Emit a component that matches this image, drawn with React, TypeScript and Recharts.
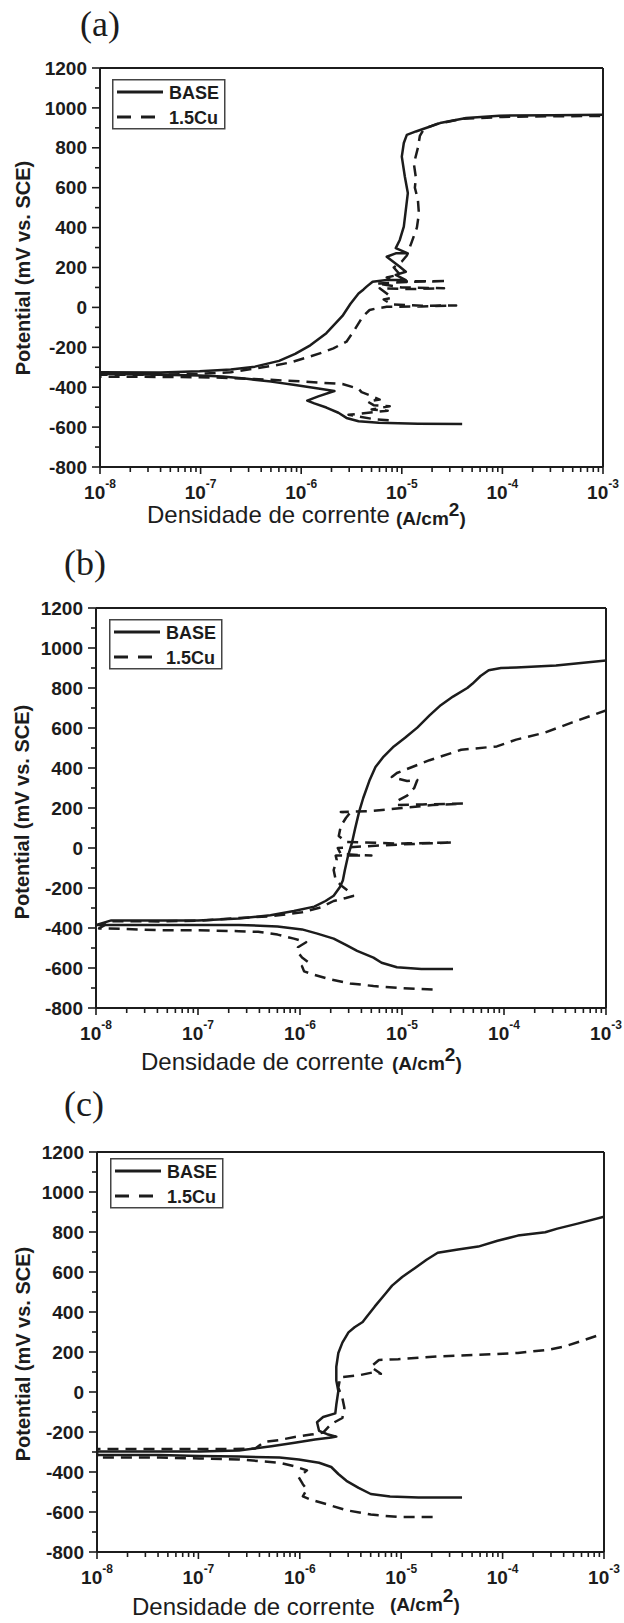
import React from 'react';
import { LineChart, Line, XAxis, YAxis, ReferenceLine, Legend } from 'recharts';

// ---------- data: log10(current density, A/cm2) and potential (mV vs. SCE) ----------
// Panel (a)
const aBaseLogI = [-4.40,-4.84,-5.23,-5.43,-5.55,-5.63,-5.75,-5.87,-5.94,-5.83,-5.67,-5.83,-6.06,-6.30,-6.54,-6.78,-7.01,-7.41,-7.80,-8.00,
  -8.00,-7.40,-7.01,-6.70,-6.46,-6.22,-6.06,-5.91,-5.75,-5.59,-5.51,-5.43,-5.38,-5.35,-5.29,-5.15,-4.96,-5.06,-4.96,-5.02,
  -5.15,-5.06,-4.94,-5.06,-5.02,-4.98,-4.96,-4.94,-4.97,-5.00,-4.98,-4.95,-4.86,-4.76,-4.62,-4.36,-4.03,-3.50,-3.00];
const aBaseE = [-585,-583,-578,-571,-554,-528,-502,-481,-467,-446,-419,-407,-389,-372,-358,-346,-341,-337,-334,-334,
  -325,-326,-320,-311,-297,-268,-233,-190,-129,-43,18,70,90,104,129,137,137,163,179,204,
  254,271,271,297,338,405,489,573,656,756,824,865,882,899,924,949,961,963,966];
const aCuLogI = [-5.13,-5.28,-5.53,-5.40,-5.14,-5.30,-5.12,-5.28,-5.34,-5.22,-5.32,-5.40,-5.43,-5.59,-5.80,-6.00,-6.30,-6.60,-6.90,-7.20,-7.60,-8.00,
  -8.00,-7.50,-7.00,-6.70,-6.45,-6.25,-6.10,-5.95,-5.80,-5.68,-5.55,-5.47,-5.39,-5.32,-5.25,-5.15,-4.80,-4.46,-4.80,-5.10,
  -5.18,-5.10,-5.15,-5.22,-4.90,-4.58,-5.00,-5.25,-4.90,-4.55,-5.00,-5.15,-5.02,-5.08,-5.00,-4.95,-4.90,-4.85,-4.83,-4.84,
  -4.87,-4.86,-4.88,-4.84,-4.82,-4.78,-4.65,-4.40,-4.00,-3.50,-3.00];
const aCuE = [-566,-560,-538,-532,-518,-512,-495,-490,-472,-462,-440,-425,-408,-384,-378,-371,-363,-356,-351,-349,-348,-347,
  -338,-338,-333,-325,-305,-290,-275,-252,-228,-205,-172,-113,-47,-13,-5,3,5,10,8,15,
  40,48,70,96,92,96,100,120,128,132,130,150,165,200,230,260,330,400,470,540,
  600,650,720,800,860,895,920,945,955,958,960];

// Panel (b)
const bBaseLogI = [-4.50,-4.81,-5.05,-5.20,-5.28,-5.44,-5.55,-5.67,-5.83,-5.98,-6.22,-6.60,-7.19,-8.00,
  -7.85,-7.00,-6.60,-6.29,-6.06,-5.86,-5.75,-5.67,-5.61,-5.58,-5.56,-5.53,-5.49,-5.46,-5.42,-5.38,-5.32,-5.26,-5.18,-5.08,
  -4.97,-4.85,-4.73,-4.62,-4.50,-4.36,-4.31,-4.23,-4.15,-4.03,-3.88,-3.49,-3.00];
const bBaseE = [-605,-605,-596,-574,-548,-514,-484,-453,-428,-407,-392,-385,-385,-385,
  -362,-362,-353,-336,-315,-293,-265,-239,-196,-162,-110,-41,27,96,182,250,336,405,457,508,
  551,602,663,714,757,800,821,860,889,900,903,912,937];
const bCuLogI = [-4.70,-5.05,-5.28,-5.51,-5.71,-5.86,-5.96,-5.98,-5.92,-5.98,-6.02,-6.02,-5.94,-6.06,-6.22,-6.41,-6.60,-6.99,-7.38,-7.70,-7.97,
  -7.85,-7.38,-7.00,-6.60,-6.29,-5.98,-5.79,-5.67,-5.55,-5.48,-5.50,-5.59,-5.65,-5.67,-5.64,-5.65,-5.30,-5.60,-5.63,-5.30,
  -5.00,-4.50,-5.00,-5.55,-5.62,-5.60,-5.55,-5.51,-5.60,-5.30,-5.00,-4.70,-4.40,-4.80,-5.05,-5.05,-4.95,-4.88,-4.85,-4.95,
  -5.10,-5.05,-4.90,-4.73,-4.42,-4.07,-3.88,-3.60,-3.33,-3.00];
const bCuE = [-708,-699,-690,-677,-656,-634,-617,-591,-570,-548,-522,-496,-471,-453,-433,-419,-416,-411,-411,-405,-402,
  -366,-367,-364,-350,-342,-321,-296,-265,-250,-240,-225,-190,-160,-110,-60,-38,-38,-30,0,10,
  18,28,22,30,60,110,150,175,180,185,200,215,222,218,215,235,262,300,340,335,
  355,375,405,439,491,508,542,577,628,688];

// Panel (c)
const cBaseLogI = [-4.40,-4.83,-5.11,-5.30,-5.42,-5.54,-5.62,-5.69,-5.81,-6.01,-6.20,-6.60,-6.99,-7.38,-8.00,
  -8.00,-7.38,-6.99,-6.60,-6.28,-6.05,-5.85,-5.69,-5.64,-5.73,-5.81,-5.83,-5.77,-5.65,-5.64,-5.62,-5.64,-5.64,-5.62,-5.58,
  -5.52,-5.46,-5.38,-5.34,-5.26,-5.16,-5.09,-4.99,-4.87,-4.75,-4.64,-4.44,-4.24,-4.05,-3.85,-3.58,-3.46,-3.26,-3.00];
const cBaseE = [-527,-527,-522,-510,-479,-444,-410,-375,-354,-337,-328,-323,-320,-315,-315,
  -297,-297,-297,-292,-271,-254,-237,-228,-223,-211,-194,-151,-125,-107,-64,5,57,126,195,247,
  298,324,350,376,428,489,532,575,618,661,696,713,727,756,782,799,817,842,877];
const cCuLogI = [-4.69,-5.03,-5.30,-5.54,-5.73,-5.89,-5.97,-5.93,-5.97,-6.01,-5.93,-6.05,-6.20,-6.60,-6.99,-7.38,-8.00,
  -8.00,-7.38,-6.67,-6.44,-6.35,-6.20,-6.05,-5.89,-5.77,-5.69,-5.58,-5.56,-5.58,-5.62,-5.60,-5.42,-5.26,-5.20,-5.30,-5.22,
  -5.03,-4.64,-4.24,-3.85,-3.54,-3.38,-3.07];
const cCuE = [-625,-625,-613,-591,-562,-539,-522,-487,-461,-427,-392,-372,-354,-337,-332,-328,-328,
  -285,-285,-285,-283,-250,-240,-225,-213,-203,-160,-130,-80,-30,22,74,83,100,91,126,160,
  164,178,186,195,212,229,281];

const seriesNames = ['BASE', '1.5Cu'];
const panelTitles = ['(a)', '(b)', '(c)'];
const yTickValues = [-800,-700,-600,-500,-400,-300,-200,-100,0,100,200,300,400,500,600,700,800,900,1000,1100,1200];
const decadeExponents = [-8, -7, -6, -5, -4, -3];
const minorMultipliers = [1, 2, 3, 4, 5, 6, 7, 8, 9];
const xLabelText = 'Densidade de corrente';
const yLabelText = 'Potential (mV vs. SCE)';

// ---------- helpers ----------
const INK = '#1c1c1c';
const SANS = '"Liberation Sans", Arial, Helvetica, sans-serif';
const SERIF = '"Liberation Serif", "Times New Roman", Times, serif';

const xTicks: number[] = [];
decadeExponents.forEach((n) => {
  if (n === -3) { xTicks.push(Math.pow(10, n)); return; }
  minorMultipliers.forEach((k) => xTicks.push(k * Math.pow(10, n)));
});

function build(logI: number[], E: number[]) {
  const n = Math.min(logI.length, E.length);
  const out: { i: number; E: number }[] = [];
  for (let k = 0; k < n; k++) out.push({ i: Math.pow(10, logI[k]), E: E[k] });
  return out;
}

const XTick = (props: any) => {
  const { x, y, payload } = props;
  const lg = Math.log10(payload.value);
  const major = Math.abs(lg - Math.round(lg)) < 1e-6;
  return (
    <g>
      <line x1={x} x2={x} y1={y} y2={y + (major ? 7 : 5)} stroke={INK} strokeWidth={1.6} />
      {major && (
        <text x={x} y={y + 32} textAnchor="middle" fontFamily={SANS} fontWeight="bold" fontSize={19} fill={INK}>
          10<tspan dy={-11} fontSize={12}>{String(Math.round(lg))}</tspan>
        </text>
      )}
    </g>
  );
};

const YTick = (props: any) => {
  const { x, y, payload } = props;
  const v = payload.value;
  const major = v % 200 === 0;
  return (
    <g>
      <line x1={x} x2={x - (major ? 8 : 5)} y1={y} y2={y} stroke={INK} strokeWidth={1.6} />
      {major && (
        <text x={x - 13} y={y} dy="0.35em" textAnchor="end" fontFamily={SANS} fontWeight="bold" fontSize={19} fill={INK}>
          {String(v)}
        </text>
      )}
    </g>
  );
};

const LegendBox = () => (
  <svg width={114} height={51} style={{ display: 'block' }}>
    <rect x={0.75} y={0.75} width={112} height={49} fill="#fff" stroke="#444" strokeWidth={1.5} />
    <line x1={5} x2={51} y1={13} y2={13} stroke={INK} strokeWidth={3.2} />
    <text x={57} y={20} fontFamily={SANS} fontWeight="bold" fontSize={18} fill={INK}>{seriesNames[0]}</text>
    <line x1={5} x2={47} y1={38} y2={38} stroke={INK} strokeWidth={3.2} strokeDasharray="14 10" />
    <text x={57} y={45} fontFamily={SANS} fontWeight="bold" fontSize={18} fill={INK}>{seriesNames[1]}</text>
  </svg>
);

type PanelCfg = {
  top: number; height: number; mTop: number; plotH: number; left: number; right: number;
  title: string; titleX: number; titleY: number;
  legendX: number; legendY: number;
  yLabX: number; yLabY: number;
  xLabX: number; xLabY: number; unitX: number; unitY: number;
  base: { i: number; E: number }[]; cu: { i: number; E: number }[];
};

const Panel = ({ cfg }: { cfg: PanelCfg }) => {
  const W = 624;
  const xAxisH = cfg.height - cfg.mTop - cfg.plotH;
  return (
    <div style={{ position: 'absolute', left: 0, top: cfg.top, width: W, height: cfg.height }}>
      <LineChart
        width={W}
        height={cfg.height}
        margin={{ top: cfg.mTop, right: cfg.right, left: 0, bottom: 0 }}
      >
        <XAxis
          dataKey="i"
          type="number"
          scale="log"
          domain={[1e-8, 1e-3]}
          allowDataOverflow
          ticks={xTicks}
          interval={0}
          tickSize={0}
          tickMargin={0}
          tickLine={false}
          tick={<XTick />}
          height={xAxisH}
          axisLine={{ stroke: INK, strokeWidth: 2 }}
        />
        <YAxis
          type="number"
          domain={[-800, 1200]}
          allowDataOverflow
          ticks={yTickValues}
          interval={0}
          tickSize={0}
          tickMargin={0}
          tickLine={false}
          tick={<YTick />}
          width={cfg.left}
          axisLine={{ stroke: INK, strokeWidth: 2 }}
        />
        <ReferenceLine y={1200} stroke={INK} strokeWidth={2} />
        <ReferenceLine x={1e-3} stroke={INK} strokeWidth={2} />
        <Line
          data={cfg.base}
          dataKey="E"
          name={seriesNames[0]}
          type="linear"
          stroke={INK}
          strokeWidth={2.5}
          strokeLinejoin="round"
          dot={false}
          activeDot={false}
          isAnimationActive={false}
        />
        <Line
          data={cfg.cu}
          dataKey="E"
          name={seriesNames[1]}
          type="linear"
          stroke={INK}
          strokeWidth={2.5}
          strokeDasharray="11 7"
          strokeLinejoin="round"
          dot={false}
          activeDot={false}
          isAnimationActive={false}
        />
        <Legend
          layout="horizontal"
          verticalAlign="middle"
          align="center"
          content={() => <LegendBox />}
          wrapperStyle={{ left: cfg.legendX, top: cfg.legendY, width: 114, height: 51 }}
        />
      </LineChart>
      <svg
        width={W}
        height={cfg.height}
        style={{ position: 'absolute', left: 0, top: 0, pointerEvents: 'none', overflow: 'visible' }}
      >
        <text x={cfg.titleX} y={cfg.titleY} fontFamily={SERIF} fontSize={36} fill={INK}>{cfg.title}</text>
        <text
          transform={`translate(${cfg.yLabX},${cfg.yLabY}) rotate(-90)`}
          textAnchor="middle"
          fontFamily={SANS}
          fontWeight="bold"
          fontSize={20}
          fill={INK}
        >
          {yLabelText}
        </text>
        <text x={cfg.xLabX} y={cfg.xLabY} fontFamily={SANS} fontSize={24} fill={INK}>{xLabelText}</text>
        <text x={cfg.unitX} y={cfg.unitY} fontFamily={SANS} fontWeight="bold" fontSize={19} fill={INK}>
          (A/cm<tspan dy={-9} fontSize={19}>2</tspan><tspan dy={9}>)</tspan>
        </text>
      </svg>
    </div>
  );
};

const panels: PanelCfg[] = [
  {
    top: 0, height: 540, mTop: 68, plotH: 399, left: 100, right: 21,
    title: panelTitles[0], titleX: 80, titleY: 36,
    legendX: 112, legendY: 79,
    yLabX: 30, yLabY: 268,
    xLabX: 147, xLabY: 523, unitX: 396, unitY: 525,
    base: build(aBaseLogI, aBaseE), cu: build(aCuLogI, aCuE),
  },
  {
    top: 540, height: 540, mTop: 68, plotH: 400, left: 96, right: 18,
    title: panelTitles[1], titleX: 64, titleY: 35,
    legendX: 109, legendY: 79,
    yLabX: 29, yLabY: 272,
    xLabX: 141, xLabY: 530, unitX: 392, unitY: 530,
    base: build(bBaseLogI, bBaseE), cu: build(bCuLogI, bCuE),
  },
  {
    top: 1080, height: 543, mTop: 72, plotH: 400, left: 97, right: 20,
    title: panelTitles[2], titleX: 64, titleY: 36,
    legendX: 110, legendY: 78,
    yLabX: 30, yLabY: 274,
    xLabX: 132, xLabY: 535, unitX: 390, unitY: 531,
    base: build(cBaseLogI, cBaseE), cu: build(cCuLogI, cCuE),
  },
];

export default function App() {
  return (
    <div style={{ position: 'absolute', left: 0, top: 0, width: 624, height: 1623, background: '#fff', overflow: 'hidden' }}>
      {panels.map((p, k) => (
        <Panel key={k} cfg={p} />
      ))}
    </div>
  );
}
